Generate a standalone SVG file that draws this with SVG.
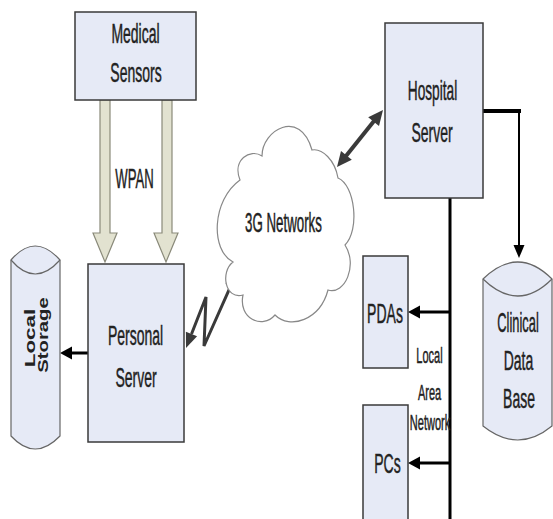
<svg xmlns="http://www.w3.org/2000/svg" width="553" height="519" viewBox="0 0 553 519">
<style>
.box{fill:#e6eaf6;stroke:#3a3a3a;stroke-width:1.5}
.lbl{font-family:"Liberation Sans",Arial,sans-serif;font-size:28px;fill:#222;stroke:#222;stroke-width:0.5;text-anchor:middle}
.sm{font-size:22px}
.rot{font-family:"Liberation Sans",Arial,sans-serif;font-size:14px;font-weight:bold;fill:#222;text-anchor:middle}
.hollow{fill:#e2e2d0;stroke:#8a8a7a;stroke-width:1.2}
.blk{stroke:#000;fill:none}
.gray{stroke:#3a3a3a;fill:none}
.hb{fill:#000}
.hg{fill:#3a3a3a}
</style>

<g id="connectors">
  <g id="wpan-arrows">
    <path class="hollow" d="M100,100 L110,100 L110,233 L117,233 L105,262 L93,233 L100,233 Z"/>
    <path class="hollow" d="M162,100 L172,100 L172,233 L178,233 L166,262 L154,233 L162,233 Z"/>
    <text class="lbl" transform="translate(134.5,188) scale(0.47,1)">WPAN</text>
  </g>
  <g id="to-local-storage">
    <line class="blk" x1="88" y1="353" x2="70" y2="353" stroke-width="3"/>
    <polygon class="hb" points="60,353 72,346.5 72,359.5"/>
  </g>
  <g id="wireless-link">
    <polyline class="gray" points="191.5,334 206,297 204,346 230.9,285.7" stroke-width="3" stroke-linejoin="miter"/>
    <polygon class="hg" points="186,348 197.1,336.2 185.9,331.8"/>
    <polygon class="hg" points="237,272 236.4,288.1 225.4,283.3"/>
  </g>
  <g id="hospital-link">
    <line class="gray" x1="346" y1="156" x2="374" y2="121" stroke-width="4"/>
    <polygon class="hg" points="383,110 379,126.1 368.2,117.3"/>
    <polygon class="hg" points="337,167 351.8,159.7 341,150.9"/>
  </g>
  <g id="to-database">
    <path class="blk" d="M483,111 L521,111" stroke-width="4"/>
    <line class="blk" x1="519" y1="111" x2="519" y2="248" stroke-width="2"/>
    <polygon class="hb" points="519,258 513.5,245 524.5,245"/>
  </g>
  <g id="lan">
    <line class="blk" x1="450" y1="198" x2="450" y2="519" stroke-width="3"/>
    <line class="blk" x1="450" y1="312" x2="418" y2="312" stroke-width="3"/>
    <polygon class="hb" points="408,312 420,305.5 420,318.5"/>
    <line class="blk" x1="450" y1="463" x2="418" y2="463" stroke-width="3"/>
    <polygon class="hb" points="408,463 420,456.5 420,469.5"/>
    <text class="lbl sm" transform="translate(429.5,363) scale(0.5,1)">Local</text>
    <text class="lbl sm" transform="translate(429.5,400) scale(0.5,1)">Area</text>
    <text class="lbl sm" transform="translate(430,430) scale(0.5,1)">Network</text>
  </g>
</g>

<g id="medical-sensors">
  <rect class="box" x="75" y="12" width="121" height="88"/>
  <text class="lbl" transform="translate(135.5,43) scale(0.5,1)">Medical</text>
  <text class="lbl" transform="translate(136,82) scale(0.5,1)">Sensors</text>
</g>

<g id="personal-server">
  <rect class="box" x="88" y="264" width="96" height="178"/>
  <text class="lbl" transform="translate(135.5,345) scale(0.5,1)">Personal</text>
  <text class="lbl" transform="translate(136,387) scale(0.5,1)">Server</text>
</g>

<g id="local-storage">
  <path class="box" style="stroke:#666;stroke-width:1.2" d="M11,260 Q35,232 60,260 L60,436 Q35,462 11,436 Z"/>
  <path d="M11,260 Q35,288 60,260" fill="none" stroke="#666" stroke-width="1.2"/>
  <text class="rot" transform="translate(34.5,338) rotate(-90) scale(1.6,1)">Local</text>
  <text class="rot" transform="translate(47.5,335) rotate(-90) scale(1.45,1)">Storage</text>
</g>

<g id="networks-3g">
  <path d="M240,180 C232,160 250,148 262,156 C262,130 300,108 312,150 C322,148 335,160 338,178 C355,185 360,230 345,245 C358,265 345,295 328,290 C320,320 290,330 275,315 C262,330 238,318 243,295 C225,300 220,272 233,262 C210,250 212,200 240,180 Z" fill="#fff" stroke="#888" stroke-width="1.2"/>
  <text class="lbl" transform="translate(283.5,232) scale(0.475,1)">3G Networks</text>
</g>

<g id="hospital-server">
  <rect class="box" x="385" y="23" width="98" height="175"/>
  <text class="lbl" transform="translate(432.5,100) scale(0.49,1)">Hospital</text>
  <text class="lbl" transform="translate(432,142) scale(0.5,1)">Server</text>
</g>

<g id="clinical-db">
  <path class="box" style="stroke:#666;stroke-width:1.2" d="M483,279 Q518,245 552,279 L552,426 Q518,454 483,426 Z"/>
  <path d="M483,279 Q518,313 552,279" fill="none" stroke="#666" stroke-width="1.2"/>
  <text class="lbl" transform="translate(518,332) scale(0.46,1)">Clinical</text>
  <text class="lbl" transform="translate(518.5,370) scale(0.5,1)">Data</text>
  <text class="lbl" transform="translate(519,408) scale(0.5,1)">Base</text>
</g>

<g id="pdas">
  <rect class="box" x="363" y="256" width="45" height="112"/>
  <text class="lbl" transform="translate(385,323) scale(0.5,1)">PDAs</text>
</g>

<g id="pcs">
  <rect class="box" x="363" y="405" width="45" height="120"/>
  <text class="lbl" transform="translate(387.5,473) scale(0.5,1)">PCs</text>
</g>
</svg>
